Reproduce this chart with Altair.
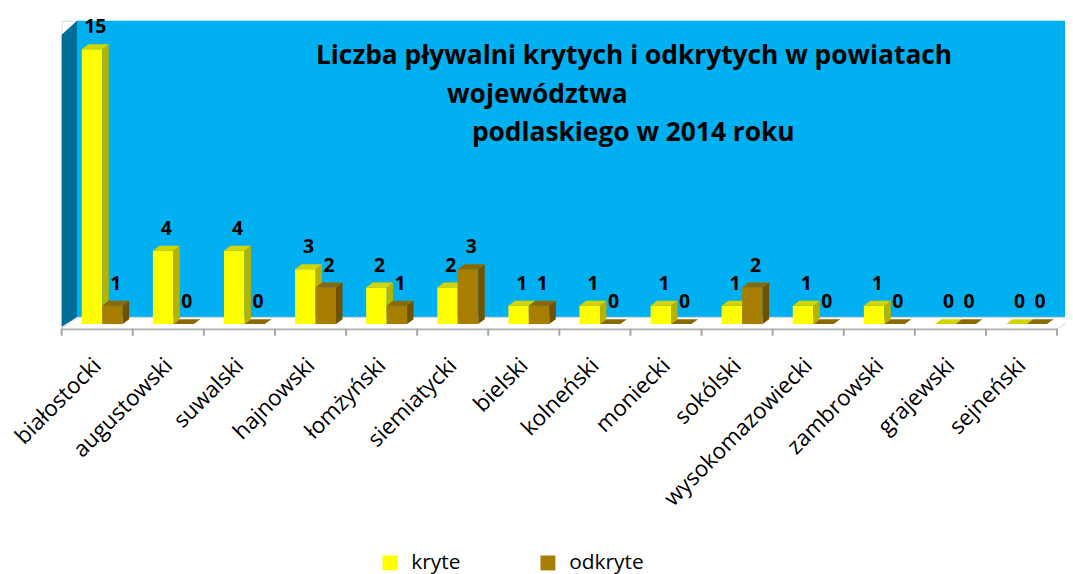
import altair as alt
import pandas as pd

# ---------------- data ----------------
categories = ["białostocki", "augustowski", "suwalski", "hajnowski", "łomżyński",
              "siemiatycki", "bielski", "kolneński", "moniecki", "sokólski",
              "wysokomazowiecki", "zambrowski", "grajewski", "sejneński"]
kryte = [15, 4, 4, 3, 2, 2, 1, 1, 1, 1, 1, 1, 0, 0]
odkryte = [1, 0, 0, 2, 1, 3, 1, 0, 0, 2, 0, 0, 0, 0]
series = ["kryte", "odkryte"]
title_lines = ["Liczba pływalni krytych i odkrytych w powiatach",
               "województwa",
               "podlaskiego w 2014 roku"]

# ---------------- style / geometry constants ----------------
FONT = "Open Sans"
W, H = 1002, 310
Y_MIN, Y_MAX = -0.255, 16.556
N = len(categories)
DX, DY = 0.091, 0.27          # 3D depth of bars (x in category units, y in value units)
WALL_DX, FLOOR_Y = 0.216, 0.37
BAR_W = 0.288
BAR_START = 0.283

xs = alt.Scale(domain=[0, N], nice=False, zero=False)
ys = alt.Scale(domain=[Y_MIN, Y_MAX], nice=False, zero=False)

label_expr = "[" + ",".join("'%s'" % c for c in categories) + "][floor(datum.value)]"
xaxis = alt.Axis(values=[i + 0.5 for i in range(N)], labelExpr=label_expr,
                 ticks=False, grid=False, title=None, domainColor="#A6A6A6",
                 domainWidth=2, labelAngle=315, labelAlign="right",
                 labelBaseline="middle", labelFontSize=22.5, labelFont=FONT,
                 labelColor="black", labelPadding=33, labelOverlap=False,
                 labelFlush=False, labelBound=False, labelLimit=400)


def X(f):
    return alt.X(f, type="quantitative", scale=xs, axis=xaxis)


def Y(f):
    return alt.Y(f, type="quantitative", scale=ys, axis=None, stack=None)


# ---------------- frame: back wall, left wall, floor ----------------
back = pd.DataFrame({"x0": [WALL_DX], "x1": [N + 0.2], "y0": [FLOOR_Y], "y1": [Y_MAX]})
back_wall = alt.Chart(back).mark_rect(color="#00B0F0").encode(
    x=X("x0"), x2="x1", y=Y("y0"), y2="y1")

left = pd.DataFrame({"x": [0, WALL_DX], "y": [-0.146, FLOOR_Y], "y2": [15.8, Y_MAX]})
left_wall = alt.Chart(left).mark_area(color="#006E96").encode(
    x=X("x"), y=Y("y"), y2="y2")

floor = pd.DataFrame({"x": [0, WALL_DX, N, N + 0.25],
                      "y": [Y_MIN, Y_MIN, Y_MIN, FLOOR_Y],
                      "y2": [Y_MIN, FLOOR_Y, FLOOR_Y, FLOOR_Y]})
floor_layer = alt.Chart(floor).mark_area(fill="white", stroke="#D0D0D0",
                                         strokeWidth=1).encode(
    x=X("x"), y=Y("y"), y2="y2")

ticks = pd.DataFrame({"x": list(range(N + 1))})
tick_layer = alt.Chart(ticks).mark_rule(color="#A6A6A6", strokeWidth=2).encode(
    x=X("x"), y=alt.value(H), y2=alt.value(H + 7))

# ---------------- bars ----------------
rows, faces = [], []
for s_idx, (s, vals) in enumerate(zip(series, [kryte, odkryte])):
    for i, v in enumerate(vals):
        x0 = i + BAR_START + s_idx * BAR_W
        x1 = x0 + BAR_W
        rows.append({"series": s, "cat": categories[i], "v": v, "x0": x0, "x1": x1,
                     "y0": 0, "xc": (x0 + x1) / 2 + DX / 2, "yt": v + DY})
        bid = f"{s}_{i}"
        # side face
        faces += [{"series": s, "face": "side", "id": bid, "x": x1, "y": 0, "y2": v},
                  {"series": s, "face": "side", "id": bid, "x": x1 + DX, "y": DY, "y2": v + DY}]
        # top face
        faces += [{"series": s, "face": "top", "id": bid, "x": x0, "y": v, "y2": v},
                  {"series": s, "face": "top", "id": bid, "x": x0 + DX, "y": v, "y2": v + DY},
                  {"series": s, "face": "top", "id": bid, "x": x1, "y": v, "y2": v + DY},
                  {"series": s, "face": "top", "id": bid, "x": x1 + DX, "y": v + DY, "y2": v + DY}]
bars = pd.DataFrame(rows)
faces = pd.DataFrame(faces)

front_colors = ["#FFFF00", "#A87E00"]
side_colors = {"kryte": "#B3B300", "odkryte": "#6E5200"}
top_colors = {"kryte": "#D4D400", "odkryte": "#8C6800"}

color_enc = alt.Color("series:N", scale=alt.Scale(domain=series, range=front_colors),
                      legend=alt.Legend(orient="none", legendX=320, legendY=535,
                                        direction="horizontal", title=None,
                                        symbolType="square", symbolSize=225,
                                        symbolStrokeWidth=0, labelFontSize=21,
                                        labelFont=FONT, labelColor="black",
                                        labelOffset=11, columnPadding=77))

layers = [back_wall, left_wall, floor_layer, tick_layer]
for s in series:
    layers.append(alt.Chart(bars).transform_filter(alt.datum.series == s)
                  .mark_rect().encode(x=X("x0"), x2="x1", y=Y("y0"), y2="v",
                                      color=color_enc))
    for face, cmap in [("side", side_colors), ("top", top_colors)]:
        layers.append(alt.Chart(faces)
                      .transform_filter((alt.datum.series == s) & (alt.datum.face == face))
                      .mark_area(color=cmap[s])
                      .encode(x=X("x"), y=Y("y"), y2="y2", detail="id:N"))

labels = alt.Chart(bars).mark_text(fontSize=19.5, fontWeight="bold", font=FONT,
                                   color="black", baseline="alphabetic",
                                   align="center", dy=-11).encode(
    x=X("xc"), y=Y("yt"), text=alt.Text("v:Q", format="d"))
layers.append(labels)

# ---------------- title (three lines) ----------------
title_pos = [(256, 43), (388, 83), (413, 121)]
for (px, py), t in zip(title_pos, title_lines):
    layers.append(alt.Chart(pd.DataFrame({"t": [t]})).mark_text(
        fontSize=26.5, fontWeight="bold", font=FONT, color="black",
        align="left", baseline="alphabetic").encode(
        x=alt.value(px), y=alt.value(py), text="t:N"))

chart = alt.layer(*layers).properties(
    width=W, height=H,
    autosize=alt.AutoSizeParams(type="none"),
    padding={"left": 54, "top": 11, "right": 8, "bottom": 247},
).configure_view(stroke=None).configure(background="white")

chart.save("out.html", embed_options={"renderer": "svg", "actions": False})
